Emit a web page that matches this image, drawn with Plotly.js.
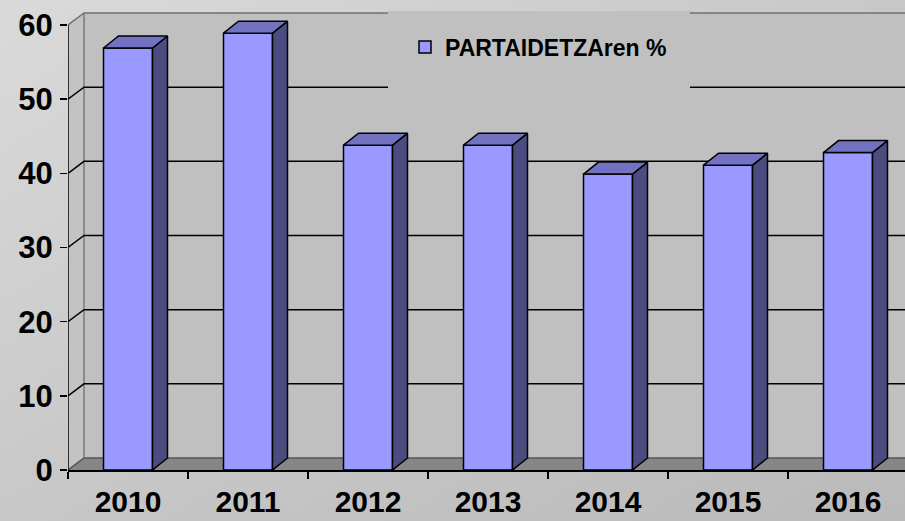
<!DOCTYPE html>
<html>
<head>
<meta charset="utf-8">
<script src="https://cdn.plot.ly/plotly-3.0.1.min.js"></script>
<style>
  html, body { margin: 0; padding: 0; }
  body { width: 905px; height: 521px; overflow: hidden;
         background: linear-gradient(to bottom right, #dadada 0%, #c6c6c6 55%, #bababa 100%); }
  #chart { width: 905px; height: 521px; }
</style>
</head>
<body>
<div id="chart"></div>
<script>
// ---- data ----
const categories = ['2010', '2011', '2012', '2013', '2014', '2015', '2016'];
const participation = [56.9, 58.9, 43.8, 43.8, 39.9, 41.1, 42.8];
const yTickVals = [0, 10, 20, 30, 40, 50, 60];
const seriesName = 'PARTAIDETZAren %';

// ---- geometry / style ----
const plotL = 68, plotR = 905, plotT = 0, plotB = 470, H = 521;
const pxPerCat = 120;
const pxPerUnit = 445 / 60;
const xMin = -0.5, xMax = -0.5 + (plotR - plotL) / pxPerCat;
const yMax = (plotB - plotT) / pxPerUnit;
const barW = 49 / pxPerCat;
const depthX = 15 / pxPerCat, depthY = 12 / pxPerUnit;
const wallX = 16 / pxPerCat;
const yTop = yTickVals[yTickVals.length - 1];

const xs = categories.map((_, i) => i);

// 3D faces built from the values
const sideX = [], sideY = [], topX = [], topY = [];
participation.forEach((v, i) => {
  const l = xs[i] - barW / 2, r = xs[i] + barW / 2;
  sideX.push(r, r + depthX, r + depthX, r, r, null);
  sideY.push(0, depthY, v + depthY, v, 0, null);
  topX.push(l, l + depthX, r + depthX, r, l, null);
  topY.push(v, v + depthY, v + depthY, v, v, null);
});

const traces = [
  { type: 'scatter', x: sideX, y: sideY, mode: 'lines', fill: 'toself',
    fillcolor: '#4c4c80', line: { color: '#000', width: 1.5 },
    hoverinfo: 'skip', showlegend: false },
  { type: 'scatter', x: topX, y: topY, mode: 'lines', fill: 'toself',
    fillcolor: '#7272c2', line: { color: '#000', width: 1.5 },
    hoverinfo: 'skip', showlegend: false },
  { type: 'bar', name: seriesName, x: xs, y: participation, width: barW,
    marker: { color: '#9999ff', line: { color: '#000', width: 1.5 } },
    hoverinfo: 'x+y' }
];

// walls, floor, gridlines
const px2dx = p => xMin + (p - plotL) / pxPerCat;
const px2dy = p => (plotB - p) / pxPerUnit;
const shapes = [];
const bx = xMin + wallX;
shapes.push({ type: 'path', xref: 'x', yref: 'y', layer: 'below',
  path: `M${xMin},0 L${bx},${depthY} L${bx},${yTop + depthY} L${xMin},${yTop} Z`,
  fillcolor: '#c3c3c3', line: { width: 0 } });
shapes.push({ type: 'rect', xref: 'x', yref: 'y', layer: 'below',
  x0: bx, x1: xMax + 1, y0: depthY, y1: yTop + depthY,
  fillcolor: '#c0c0c0', line: { width: 0 } });
shapes.push({ type: 'path', xref: 'x', yref: 'y', layer: 'below',
  path: `M${xMin},0 L${bx},${depthY} L${xMax + 1},${depthY} L${xMax + 1},0 Z`,
  fillcolor: '#868686', line: { width: 0 } });
// back wall left edge
shapes.push({ type: 'line', xref: 'x', yref: 'y', layer: 'below',
  x0: bx, x1: bx, y0: depthY, y1: yTop + depthY,
  line: { color: '#7a7a7a', width: 1.5 } });
yTickVals.forEach(v => {
  const col = (v === yTop) ? '#707070' : (v === 0 ? '#555555' : '#000000');
  shapes.push({ type: 'path', xref: 'x', yref: 'y', layer: 'below',
    path: `M${xMin},${v} L${bx},${v + depthY} L${xMax + 1},${v + depthY}`,
    line: { color: col, width: 1.5 } });
});
// legend backdrop (hides gridlines behind the legend)
shapes.push({ type: 'rect', xref: 'x', yref: 'y', layer: 'below',
  x0: px2dx(388), x1: px2dx(690), y0: px2dy(93), y1: px2dy(11),
  fillcolor: '#c0c0c0', line: { width: 0 } });
// front value axis line
shapes.push({ type: 'line', xref: 'x', yref: 'y', layer: 'below',
  x0: xMin, x1: xMin, y0: 0, y1: yTop, line: { color: '#000', width: 1.5 } });

const font = 'Liberation Sans, Arial, sans-serif';
const layout = {
  width: 905, height: 521,
  margin: { l: plotL, r: 905 - plotR, t: plotT, b: H - plotB, pad: 0 },
  paper_bgcolor: 'rgba(0,0,0,0)', plot_bgcolor: 'rgba(0,0,0,0)',
  showlegend: true,
  legend: { x: (405 - plotL) / (plotR - plotL), y: (plotB - 47) / (plotB - plotT),
    xanchor: 'left', yanchor: 'middle',
    bgcolor: 'rgba(0,0,0,0)', borderwidth: 0,
    font: { family: font, size: 23, weight: 'bold', color: '#000' } },
  xaxis: { range: [xMin, xMax], tickmode: 'array', tickvals: xs, ticktext: categories,
    ticks: '', showgrid: false, zeroline: false,
    showline: true, linecolor: '#000', linewidth: 1.5,
    tickfont: { family: font, size: 30, weight: 'bold', color: '#000' },
    ticklabelstandoff: 4,
    minor: { tickmode: 'linear', tick0: -0.5, dtick: 1, ticks: 'outside',
      ticklen: 7, tickwidth: 1.5, tickcolor: '#000', showgrid: false },
    fixedrange: true },
  yaxis: { range: [0, yMax], tickmode: 'array', tickvals: yTickVals,
    ticks: 'outside', ticklen: 7, tickwidth: 1.5, tickcolor: '#000',
    showgrid: false, zeroline: false, showline: false,
    tickfont: { family: font, size: 31, weight: 'bold', color: '#000' },
    ticklabelstandoff: 1,
    fixedrange: true },
  shapes: shapes,
  bargap: 0
};

Plotly.newPlot('chart', traces, layout, { displayModeBar: false, staticPlot: true });
</script>
</body>
</html>
